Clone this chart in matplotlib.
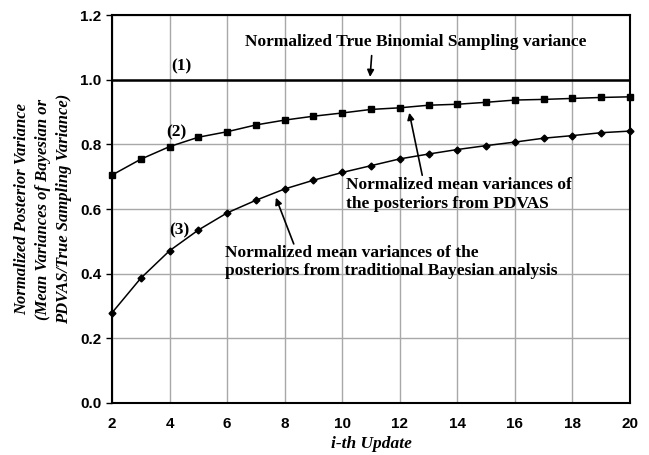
import matplotlib.pyplot as plt
import numpy as np

# updates and normalized variances
updates = list(range(2, 21))
true_var = [1.0] * len(updates)
pdvas = [0.705, 0.754, 0.793, 0.822, 0.839, 0.860, 0.875, 0.887, 0.897, 0.908,
         0.913, 0.921, 0.924, 0.930, 0.937, 0.939, 0.942, 0.945, 0.947]
bayes = [0.279, 0.386, 0.471, 0.535, 0.588, 0.627, 0.662, 0.689, 0.713, 0.734,
         0.755, 0.770, 0.784, 0.796, 0.807, 0.819, 0.827, 0.836, 0.841]

serif = 'Liberation Serif'
sans = 'Liberation Sans'

fig = plt.figure(figsize=(6.49, 4.55), dpi=100)
ax = fig.add_axes([0.1726, 0.1143, 0.7981, 0.8527])

ax.plot(updates, true_var, color='black', lw=1.8, zorder=3)
ax.plot(updates, pdvas, color='black', lw=1.1, marker='s', ms=4.5, zorder=3, clip_on=False)
ax.plot(updates, bayes, color='black', lw=1.1, marker='D', ms=3.5, zorder=3, clip_on=False)

ax.set_xlim(2, 20)
ax.set_ylim(0, 1.2)
ax.set_xticks(np.arange(2, 21, 2))
ax.set_yticks(np.arange(0, 1.21, 0.2))
ax.set_yticklabels(['%.1f' % v for v in np.arange(0, 1.21, 0.2)])
ax.grid(True, color='#a8a8a8', lw=1.0)
ax.set_axisbelow(True)
for s in ax.spines.values():
    s.set_linewidth(1.5)
    s.set_color('black')
ax.tick_params(axis='both', labelsize=11, width=1, length=4, direction='out')
ax.tick_params(axis='x', length=0, pad=10)
for lab in ax.get_xticklabels() + ax.get_yticklabels():
    lab.set_fontfamily(sans)
    lab.set_fontweight('bold')

ax.set_xlabel('i-th Update', fontfamily=serif, fontweight='bold', fontstyle='italic',
              fontsize=12.5, labelpad=4)
fig.text(43 / 649, 1 - 209 / 455,
         'Normalized Posterior Variance\n(Mean Variances of Bayesian or\nPDVAS/True Sampling Variance)',
         rotation=90, ha='center', va='center', fontfamily=serif, fontweight='bold',
         fontstyle='italic', fontsize=12, linespacing=1.4)

tk = dict(fontfamily=serif, fontweight='bold', fontsize=12.5, color='black')
arrow = dict(arrowstyle='-|>', color='black', lw=1.2, mutation_scale=10)

ax.text(12.57, 1.118, 'Normalized True Binomial Sampling variance', ha='center', va='center', **tk)
ax.annotate('', xy=(10.96, 1.0), xytext=(11.03, 1.083), arrowprops=arrow)
ax.text(4.4, 1.04, '(1)', ha='center', va='center', **tk)
ax.text(4.25, 0.836, '(2)', ha='center', va='center', **tk)
ax.text(4.33, 0.533, '(3)', ha='center', va='center', **tk)

ax.text(10.12, 0.645, 'Normalized mean variances of\nthe posteriors from PDVAS',
        ha='left', va='center', linespacing=1.2, **tk)
ax.annotate('', xy=(12.31, 0.906), xytext=(12.8, 0.696), arrowprops=arrow)

ax.text(5.92, 0.436, 'Normalized mean variances of the\nposteriors from traditional Bayesian analysis',
        ha='left', va='center', linespacing=1.2, **tk)
ax.annotate('', xy=(7.66, 0.643), xytext=(8.35, 0.484), arrowprops=arrow)

fig.savefig('out.png', dpi=100)
